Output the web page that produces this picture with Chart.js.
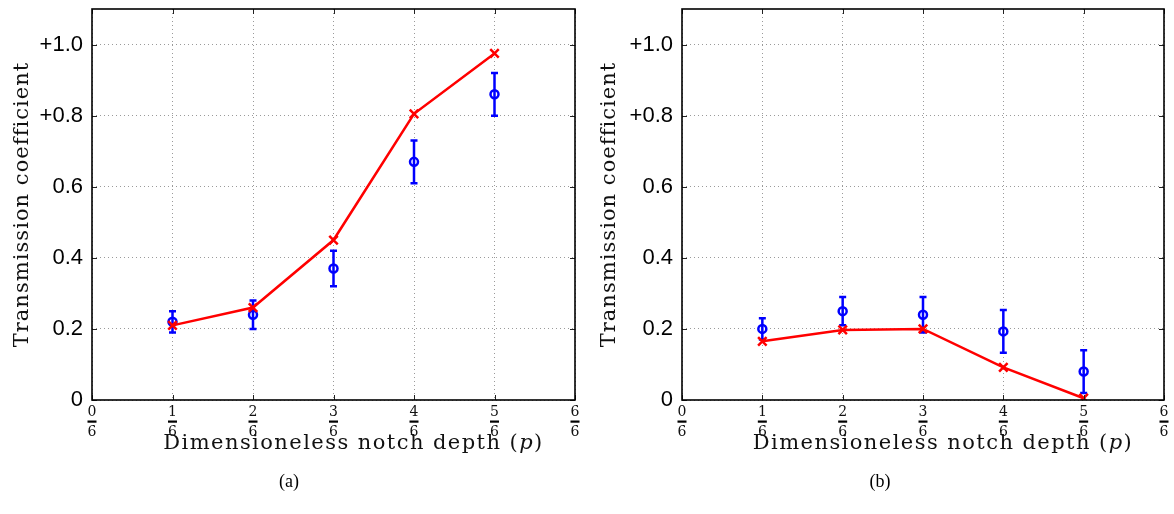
<!DOCTYPE html>
<html>
<head>
<meta charset="utf-8">
<script src="https://cdn.jsdelivr.net/npm/chart.js@4/dist/chart.umd.min.js"></script>
<style>
  body { margin: 0; background: #fff; }
  .panel { position: absolute; top: 0; width: 587px; height: 514px; }
</style>
</head>
<body>
<div class="panel" style="left:0"><canvas id="chartA" width="587" height="514"></canvas></div>
<div class="panel" style="left:587px"><canvas id="chartB" width="587" height="514"></canvas></div>
<script>
// x positions in sixths of the depth
const depths = [1, 2, 3, 4, 5];
const yTickValues = [0, 0.2, 0.4, 0.6, 0.8, 1.0];
const yTickLabels = ['0', '0.2', '0.4', '0.6', '+0.8', '+1.0'];

// panel (a)
const modelA = [0.21, 0.26, 0.45, 0.805, 0.975];
const expA = [0.22, 0.24, 0.37, 0.67, 0.86];
const expLowA = [0.19, 0.20, 0.32, 0.61, 0.80];
const expHighA = [0.25, 0.28, 0.42, 0.73, 0.92];

// panel (b)
const modelB = [0.165, 0.197, 0.200, 0.092, 0.005];
const expB = [0.20, 0.25, 0.24, 0.193, 0.08];
const expLowB = [0.17, 0.21, 0.19, 0.133, 0.02];
const expHighB = [0.23, 0.29, 0.29, 0.253, 0.14];

const serif = '"DejaVu Serif", serif';
const tickPad = 2;
const tickLine = 20;
const titleSize = 21;

// letter spacing needed to stretch text to a target width
function fitText(ctx, parts, size, target) {
  ctx.letterSpacing = '0px';
  let w = 0, n = 0;
  parts.forEach(p => {
    ctx.font = (p.italic ? 'italic ' : '') + size + 'px ' + serif;
    w += ctx.measureText(p.text).width;
    n += p.text.length;
  });
  return Math.max(0, (target - w) / (n - 1));
}

function drawParts(ctx, parts, size, spacing, x, y) {
  ctx.letterSpacing = spacing + 'px';
  let total = 0;
  parts.forEach(p => {
    ctx.font = (p.italic ? 'italic ' : '') + size + 'px ' + serif;
    total += ctx.measureText(p.text).width;
  });
  let cx = x - total / 2;
  parts.forEach(p => {
    ctx.font = (p.italic ? 'italic ' : '') + size + 'px ' + serif;
    ctx.fillText(p.text, cx, y);
    cx += ctx.measureText(p.text).width;
  });
  ctx.letterSpacing = '0px';
}

const decorPlugin = {
  id: 'decor',
  beforeDatasetsDraw(chart, args, opts) {
    const { ctx, scales: { x, y } } = chart;
    ctx.save();
    ctx.strokeStyle = '#0000ff';
    ctx.lineWidth = 2.5;
    opts.low.forEach((lo, i) => {
      const px = x.getPixelForValue(depths[i]);
      const y1 = y.getPixelForValue(lo);
      const y2 = y.getPixelForValue(opts.high[i]);
      ctx.beginPath();
      ctx.moveTo(px, y1); ctx.lineTo(px, y2);
      ctx.moveTo(px - 3.5, y1); ctx.lineTo(px + 3.5, y1);
      ctx.moveTo(px - 3.5, y2); ctx.lineTo(px + 3.5, y2);
      ctx.stroke();
    });
    ctx.restore();
  },
  afterDraw(chart, args, opts) {
    const { ctx, chartArea: a, scales: { x, y } } = chart;
    ctx.save();
    // inward tick marks
    ctx.strokeStyle = '#222';
    ctx.lineWidth = 1;
    ctx.beginPath();
    yTickValues.forEach(v => {
      const py = Math.round(y.getPixelForValue(v)) + 0.5;
      ctx.moveTo(a.left, py); ctx.lineTo(a.left + 5, py);
      ctx.moveTo(a.right, py); ctx.lineTo(a.right - 5, py);
    });
    x.ticks.forEach(t => {
      const px = Math.round(x.getPixelForValue(t.value)) + 0.5;
      ctx.moveTo(px, a.bottom); ctx.lineTo(px, a.bottom - 5);
      ctx.moveTo(px, a.top); ctx.lineTo(px, a.top + 5);
    });
    ctx.stroke();
    // axes box
    ctx.strokeStyle = '#000';
    ctx.lineWidth = 1.6;
    ctx.strokeRect(a.left, a.top, a.right - a.left, a.bottom - a.top);
    // fraction bars between tick numerator and denominator
    ctx.fillStyle = '#000';
    const barY = x.top + tickPad + tickLine;
    x.ticks.forEach(t => {
      const px = x.getPixelForValue(t.value);
      ctx.fillRect(px - 4.5, barY - 1.5, 9, 2.2);
    });
    // axis titles
    ctx.fillStyle = '#111';
    ctx.textBaseline = 'alphabetic';
    ctx.textAlign = 'left';
    const xParts = [{ text: 'Dimensioneless notch depth (' }, { text: 'p', italic: true }, { text: ')' }];
    const sx = fitText(ctx, xParts, titleSize, 379);
    drawParts(ctx, xParts, titleSize, sx, (a.left + a.right) / 2 + 20, 449);
    const yParts = [{ text: 'Transmission coefficient' }];
    const sy = fitText(ctx, yParts, titleSize, 284);
    ctx.translate(28, (a.top + a.bottom) / 2);
    ctx.rotate(-Math.PI / 2);
    drawParts(ctx, yParts, titleSize, sy, 0, 0);
    ctx.restore();
    // caption
    ctx.save();
    ctx.fillStyle = '#000';
    ctx.font = '18px "Liberation Serif", serif';
    ctx.textAlign = 'center';
    ctx.fillText(opts.caption, opts.captionX, 487);
    ctx.restore();
  }
};

function makeChart(id, model, exp, low, high, caption, leftW, rightPad, captionX) {
  const canvas = document.getElementById(id);
  return new Chart(canvas, {
    type: 'line',
    data: {
      datasets: [
        {
          label: 'Model',
          data: depths.map((d, i) => ({ x: d, y: model[i] })),
          borderColor: '#ff0000',
          borderWidth: 2.5,
          pointStyle: 'crossRot',
          pointRadius: 6,
          pointBorderWidth: 2.5,
          pointBorderColor: '#ff0000',
          tension: 0
        },
        {
          label: 'Experiment',
          data: depths.map((d, i) => ({ x: d, y: exp[i] })),
          showLine: false,
          pointStyle: 'circle',
          pointRadius: 4,
          pointBorderWidth: 2.5,
          pointBorderColor: '#0000ff',
          pointBackgroundColor: 'rgba(255,255,255,0)'
        }
      ]
    },
    options: {
      responsive: false,
      animation: false,
      layout: { padding: { top: 9, right: rightPad, left: 0, bottom: 0 } },
      plugins: {
        legend: { display: false },
        tooltip: { enabled: false },
        decor: { low: low, high: high, caption: caption, captionX: captionX }
      },
      scales: {
        x: {
          type: 'linear',
          min: 0,
          max: 6,
          afterFit(scale) { scale.height = 114; },
          ticks: {
            stepSize: 1,
            padding: tickPad,
            maxRotation: 0,
            autoSkip: false,
            color: '#111',
            font: { family: serif, size: 14, lineHeight: tickLine / 14 },
            callback: v => [String(v), '6']
          },
          grid: {
            color: '#9a9a9a',
            lineWidth: 1,
            drawTicks: false
          },
          border: { display: false, dash: [1, 3] }
        },
        y: {
          min: 0,
          max: 1.1,
          afterFit(scale) {
            scale.width = leftW;
            scale.paddingTop = 0;
            scale.paddingBottom = 0;
          },
          afterBuildTicks(scale) { scale.ticks = yTickValues.map(v => ({ value: v })); },
          ticks: {
            padding: 9,
            color: '#000',
            font: { family: '"Liberation Sans", Arial, sans-serif', size: 22 },
            callback: (v, i) => yTickLabels[i]
          },
          grid: {
            color: '#9a9a9a',
            lineWidth: 1,
            drawTicks: false
          },
          border: { display: false, dash: [1, 3] }
        }
      }
    },
    plugins: [decorPlugin]
  });
}

makeChart('chartA', modelA, expA, expLowA, expHighA, '(a)', 92, 12, 289);
makeChart('chartB', modelB, expB, expLowB, expHighB, '(b)', 95, 10, 293);
</script>
</body>
</html>
